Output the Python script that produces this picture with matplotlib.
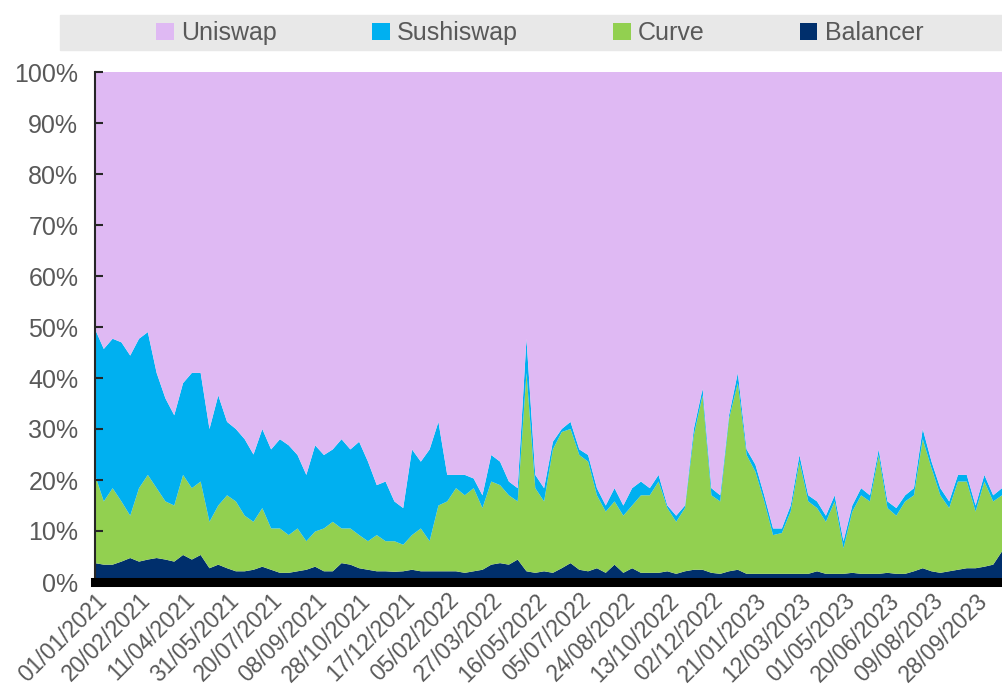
import numpy as np
import pandas as pd
import matplotlib
matplotlib.use("Agg")
import matplotlib.pyplot as plt
from matplotlib.patches import Patch, Rectangle

plt.rcParams['font.family'] = ['Liberation Sans', 'DejaVu Sans']

# one reading every 10 days, 01/01/2021 -> 27/10/2023 (share of volume, %)
dates = pd.date_range("2021-01-01", periods=104, freq="10D")

balancer = np.array([
    3.7, 3.4, 3.4, 4.0, 4.7, 4.0, 4.4, 4.7, 4.4, 4.0, 5.3, 4.4, 5.3, 2.7, 3.4, 2.7, 2.1, 2.1, 2.4, 3.0, 2.4,
    1.8, 1.8, 2.1, 2.4, 3.0, 2.1, 2.1, 3.7, 3.4, 2.7, 2.4, 2.1, 2.1, 2.0, 2.1, 2.4, 2.1, 2.1, 2.1, 2.1, 2.1,
    1.8, 2.1, 2.4, 3.4, 3.7, 3.4, 4.4, 2.1, 1.8, 2.1, 1.8, 2.7, 3.7, 2.4, 2.1, 2.7, 1.8, 3.4, 1.8, 2.7, 1.8,
    1.8, 1.8, 2.1, 1.6, 2.1, 2.4, 2.4, 1.8, 1.6, 2.1, 2.4, 1.6, 1.6, 1.6, 1.6, 1.6, 1.6, 1.6, 1.6, 2.1,
    1.6, 1.6, 1.6, 1.8, 1.6, 1.6, 1.6, 1.8, 1.6, 1.6, 2.1, 2.7, 2.1, 1.8, 2.1, 2.4, 2.7, 2.7, 3.0, 3.4, 6.0])

curve = np.array([
    17.3, 12.4, 15.0, 11.8, 8.3, 14.4, 16.6, 13.7, 11.4, 11.0, 15.7, 14.0, 14.4, 9.1, 11.6, 14.3, 13.7, 10.9, 9.4, 11.5, 8.1,
    8.7, 7.4, 8.4, 5.6, 6.9, 8.4, 9.7, 6.8, 7.1, 6.5, 5.6, 7.1, 5.9, 6.0, 5.2, 6.8, 8.4, 5.9, 12.9, 13.7, 16.3,
    15.2, 16.3, 12.1, 16.3, 15.3, 13.6, 11.4, 38.9, 16.6, 13.7, 24.2, 26.7, 26.3, 22.5, 21.5, 14.3, 12.0, 12.4, 11.2, 12.3, 15.2,
    15.2, 17.9, 12.4, 10.2, 12.4, 26.3, 34.2, 15.2, 14.2, 29.9, 36.6, 23.3, 20.0, 14.2, 7.6, 8.0, 12.2, 22.0, 14.2, 12.4,
    10.2, 14.2, 5.0, 12.0, 15.4, 14.2, 23.3, 12.7, 11.4, 14.2, 14.9, 25.3, 20.2, 15.2, 12.4, 17.3, 17.0, 11.1, 16.7, 12.4, 11.0])

sushiswap = np.array([
    28.6, 29.9, 29.3, 31.2, 31.4, 29.3, 28.0, 22.6, 20.2, 17.7, 18.0, 22.6, 21.3, 18.2, 21.6, 14.4, 14.2, 15.0, 13.2, 15.5, 15.5,
    17.5, 17.6, 14.4, 13.0, 16.9, 14.4, 14.2, 17.5, 15.5, 18.3, 15.6, 9.8, 11.7, 7.8, 7.2, 16.8, 13.1, 18.0, 16.4, 5.2, 2.6,
    4.0, 1.9, 2.5, 5.2, 4.6, 2.7, 2.6, 6.7, 2.6, 2.6, 1.5, 0.6, 1.4, 1.1, 1.3, 1.4, 1.2, 2.6, 2.0, 3.4, 2.7,
    1.4, 1.3, 0.5, 1.2, 0.5, 1.3, 1.3, 1.4, 1.2, 0.7, 2.0, 1.1, 1.4, 1.2, 1.3, 0.9, 1.2, 1.3, 1.2, 1.3,
    1.2, 1.2, 1.4, 1.2, 1.4, 1.2, 1.1, 1.3, 1.5, 1.2, 1.4, 2.0, 1.3, 1.4, 1.3, 1.3, 1.3, 1.2, 1.3, 1.2, 1.4])

uniswap = 100 - (balancer + curve + sushiswap)

tick_dates = pd.date_range("2021-01-01", periods=21, freq="50D")
tick_labels = [d.strftime("%d/%m/%Y") for d in tick_dates]

names = ["Uniswap", "Sushiswap", "Curve", "Balancer"]
colors = {"Uniswap": "#dfb9f3", "Sushiswap": "#00b0f0",
          "Curve": "#92d050", "Balancer": "#002f6c"}
grey = "#595959"

fig = plt.figure(figsize=(10.02, 6.91), dpi=100)
ax = fig.add_axes([95 / 1002, 1 - 582 / 691, 907 / 1002, 510 / 691])

ax.stackplot(dates, balancer / 100, curve / 100, sushiswap / 100, uniswap / 100,
             colors=[colors["Balancer"], colors["Curve"], colors["Sushiswap"], colors["Uniswap"]],
             linewidth=0)

ax.set_xlim(dates[0], dates[-1])
ax.set_ylim(0, 1)
ax.set_yticks(np.arange(0, 1.01, 0.1))
ax.set_yticklabels([f"{int(round(v * 100))}%" for v in np.arange(0, 1.01, 0.1)])
ax.set_xticks(tick_dates)
ax.set_xticklabels(tick_labels, rotation=45, ha="right", rotation_mode="anchor")

ax.tick_params(axis="y", direction="in", length=6, width=1.5, colors="#262626",
               labelcolor=grey, labelsize=18, pad=12)
ax.tick_params(axis="x", length=0, labelcolor=grey, labelsize=16.5, pad=5)

for side in ["top", "right"]:
    ax.spines[side].set_visible(False)
ax.spines["left"].set_color("#262626")
ax.spines["left"].set_linewidth(1.5)
ax.spines["bottom"].set_color("black")
ax.spines["bottom"].set_linewidth(6.5)
ax.spines["bottom"].set_zorder(5)

# grey legend band across the top
fig.patches.append(Rectangle((60 / 1002, 1 - 50 / 691), 942 / 1002, 35 / 691,
                             transform=fig.transFigure, color="#e8e8e8", zorder=0))
handles = [Patch(facecolor=colors[n], edgecolor="none") for n in names]
fig.legend(handles, names, loc="center", bbox_to_anchor=(540 / 1002, 1 - 33 / 691),
           ncol=4, frameon=False, fontsize=18, labelcolor=grey,
           handlelength=0.7, handleheight=0.7, handletextpad=0.3, columnspacing=3.8)

fig.savefig("out.png", dpi=100)
